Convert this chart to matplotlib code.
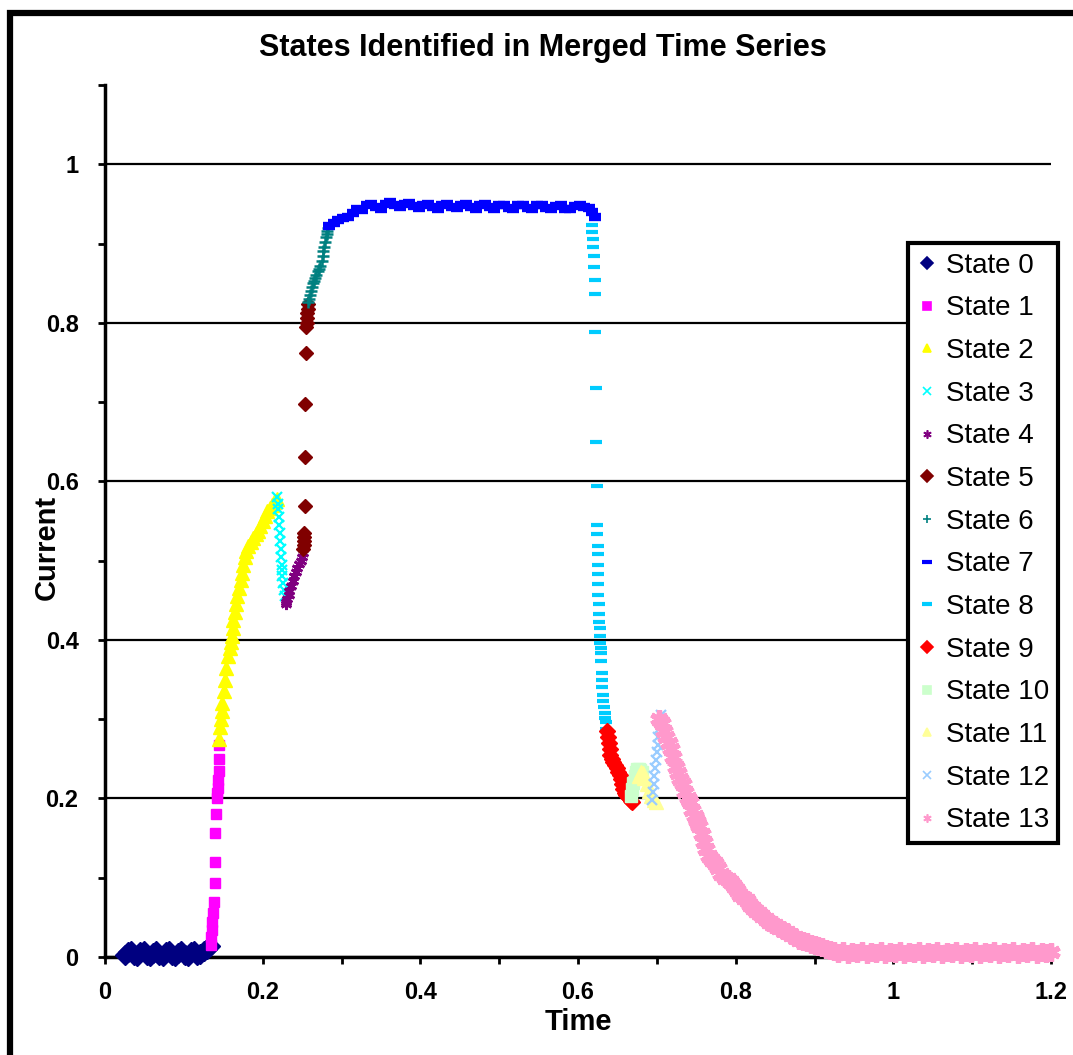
import matplotlib
matplotlib.use("Agg")
import matplotlib.pyplot as plt
from matplotlib.patches import Rectangle
from matplotlib.ticker import MultipleLocator, FuncFormatter

plt.rcParams["font.family"] = ["Liberation Sans", "DejaVu Sans"]

# ---- data (time, current) per state ----
t0 = [0.025, 0.029, 0.033, 0.037, 0.041, 0.045, 0.049, 0.053, 0.057, 0.061, 0.065, 0.069, 0.073, 0.077,
      0.081, 0.085, 0.089, 0.093, 0.097, 0.101, 0.105, 0.109, 0.113, 0.117, 0.121, 0.125, 0.129, 0.133]
i0 = [0.002, 0.006, 0.008, 0.003, 0.001, 0.006, 0.008, 0.002, 0.001, 0.005, 0.007, 0.002, 0.001, 0.006,
      0.008, 0.002, 0.001, 0.005, 0.007, 0.002, 0.001, 0.006, 0.008, 0.003, 0.004, 0.008, 0.010, 0.014]

t1 = [0.134, 0.135, 0.136, 0.136, 0.137, 0.138, 0.139, 0.140, 0.140, 0.141, 0.142, 0.142, 0.143, 0.143,
      0.144, 0.144, 0.145]
i1 = [0.015, 0.025, 0.034, 0.044, 0.055, 0.069, 0.093, 0.120, 0.156, 0.181, 0.201, 0.207, 0.213, 0.223,
      0.235, 0.250, 0.267]

t2 = [0.144, 0.146, 0.147, 0.148, 0.149, 0.151, 0.152, 0.154, 0.156, 0.158, 0.160, 0.161, 0.162, 0.163,
      0.165, 0.166, 0.168, 0.170, 0.172, 0.174, 0.175, 0.177, 0.179, 0.182, 0.185, 0.188, 0.191, 0.194,
      0.197, 0.200, 0.203, 0.206, 0.209, 0.212, 0.215, 0.218]
i2 = [0.275, 0.290, 0.300, 0.310, 0.320, 0.335, 0.350, 0.365, 0.380, 0.390, 0.397, 0.405, 0.415, 0.425,
      0.435, 0.445, 0.455, 0.465, 0.475, 0.485, 0.495, 0.505, 0.512, 0.518, 0.523, 0.528, 0.533, 0.538,
      0.544, 0.550, 0.556, 0.562, 0.566, 0.570, 0.574, 0.578]

t3 = [0.218, 0.219, 0.220, 0.221, 0.221, 0.222, 0.222, 0.223, 0.223, 0.224, 0.225, 0.225, 0.226, 0.227, 0.228]
i3 = [0.580, 0.572, 0.565, 0.555, 0.545, 0.535, 0.525, 0.515, 0.505, 0.495, 0.488, 0.480, 0.472, 0.463, 0.455]

t4 = [0.229, 0.230, 0.231, 0.233, 0.234, 0.236, 0.238, 0.240, 0.242, 0.244, 0.246, 0.248, 0.250, 0.251]
i4 = [0.445, 0.448, 0.452, 0.457, 0.462, 0.468, 0.474, 0.480, 0.486, 0.491, 0.496, 0.500, 0.505, 0.510]

t5 = [0.251, 0.252, 0.252, 0.253, 0.253, 0.254, 0.254, 0.254, 0.255, 0.255, 0.256, 0.256, 0.256, 0.257, 0.257]
i5 = [0.515, 0.520, 0.525, 0.530, 0.535, 0.569, 0.631, 0.697, 0.762, 0.795, 0.800, 0.806, 0.812, 0.818, 0.824]

t6 = [0.258, 0.259, 0.260, 0.261, 0.262, 0.264, 0.265, 0.266, 0.268, 0.270, 0.272, 0.273, 0.275, 0.276,
      0.277, 0.278, 0.279, 0.280, 0.281, 0.282, 0.283]
i6 = [0.826, 0.830, 0.835, 0.840, 0.845, 0.850, 0.853, 0.856, 0.860, 0.865, 0.868, 0.872, 0.878, 0.884,
      0.890, 0.896, 0.902, 0.908, 0.912, 0.916, 0.920]

t7 = [0.284, 0.290, 0.296, 0.302, 0.308, 0.314, 0.320, 0.326, 0.332, 0.338, 0.344, 0.350, 0.356, 0.362,
      0.368, 0.374, 0.380, 0.386, 0.392, 0.398, 0.404, 0.410, 0.416, 0.422, 0.428, 0.434, 0.440, 0.446,
      0.452, 0.458, 0.464, 0.470, 0.476, 0.482, 0.488, 0.494, 0.500, 0.506, 0.512, 0.518, 0.524, 0.530,
      0.536, 0.542, 0.548, 0.554, 0.560, 0.566, 0.572, 0.578, 0.584, 0.590, 0.596, 0.602, 0.608, 0.614,
      0.618, 0.621]
i7 = [0.922, 0.926, 0.930, 0.932, 0.934, 0.938, 0.944, 0.942, 0.948, 0.950, 0.946, 0.944, 0.950, 0.952,
      0.948, 0.946, 0.950, 0.951, 0.947, 0.945, 0.949, 0.950, 0.946, 0.944, 0.948, 0.950, 0.946, 0.945,
      0.949, 0.950, 0.946, 0.944, 0.948, 0.950, 0.946, 0.944, 0.948, 0.949, 0.945, 0.944, 0.948, 0.949,
      0.945, 0.944, 0.948, 0.949, 0.945, 0.943, 0.947, 0.948, 0.944, 0.943, 0.947, 0.948, 0.946, 0.945,
      0.940, 0.933]

t8 = [0.618, 0.618, 0.619, 0.619, 0.620, 0.620, 0.621, 0.621, 0.622, 0.623, 0.623, 0.624, 0.624, 0.624,
      0.625, 0.625, 0.625, 0.626, 0.626, 0.626, 0.627, 0.627, 0.627, 0.628, 0.628, 0.628, 0.629, 0.629,
      0.629, 0.630, 0.631, 0.631, 0.632, 0.632, 0.633, 0.634, 0.634, 0.635, 0.636]
i8 = [0.924, 0.915, 0.906, 0.896, 0.884, 0.870, 0.854, 0.836, 0.789, 0.718, 0.650, 0.594, 0.545, 0.533,
      0.518, 0.508, 0.495, 0.483, 0.471, 0.457, 0.445, 0.433, 0.423, 0.415, 0.405, 0.396, 0.390, 0.383,
      0.374, 0.358, 0.349, 0.340, 0.331, 0.323, 0.315, 0.308, 0.302, 0.296, 0.288]

t9 = [0.637, 0.638, 0.639, 0.640, 0.641, 0.643, 0.645, 0.647, 0.649, 0.651, 0.653, 0.655, 0.656, 0.657,
      0.659, 0.661, 0.663, 0.665, 0.667, 0.669]
i9 = [0.285, 0.278, 0.270, 0.262, 0.255, 0.250, 0.246, 0.242, 0.238, 0.234, 0.229, 0.224, 0.218, 0.212,
      0.207, 0.204, 0.202, 0.200, 0.197, 0.195]

t10 = [0.667, 0.669, 0.670, 0.672, 0.673, 0.675, 0.677, 0.679, 0.681]
i10 = [0.203, 0.212, 0.220, 0.228, 0.234, 0.237, 0.237, 0.236, 0.234]

t11 = [0.678, 0.680, 0.682, 0.684, 0.687, 0.690, 0.693, 0.696, 0.699]
i11 = [0.228, 0.234, 0.232, 0.226, 0.218, 0.210, 0.203, 0.198, 0.196]

t12 = [0.694, 0.695, 0.696, 0.697, 0.698, 0.699, 0.700, 0.701, 0.702, 0.703, 0.704, 0.705]
i12 = [0.198, 0.208, 0.218, 0.228, 0.238, 0.248, 0.258, 0.268, 0.278, 0.288, 0.297, 0.305]

t13 = [0.703, 0.706, 0.709, 0.712, 0.715, 0.718, 0.721, 0.724, 0.727, 0.730, 0.733, 0.736, 0.739, 0.742,
       0.745, 0.748, 0.751, 0.754, 0.757, 0.760, 0.763, 0.766, 0.770, 0.774, 0.778, 0.782, 0.786, 0.790,
       0.794, 0.798, 0.802, 0.806, 0.810, 0.814, 0.818, 0.822, 0.826, 0.830, 0.834, 0.838, 0.842, 0.846,
       0.850, 0.855, 0.860, 0.865, 0.870, 0.875, 0.880, 0.885, 0.890, 0.895, 0.900, 0.905, 0.910, 0.915,
       0.920, 0.925, 0.930, 0.936, 0.942, 0.948, 0.954, 0.960, 0.966, 0.972, 0.978, 0.984, 0.990, 0.996,
       1.002, 1.008, 1.014, 1.020, 1.026, 1.032, 1.038, 1.044, 1.050, 1.056, 1.062, 1.068, 1.074, 1.080,
       1.086, 1.092, 1.098, 1.104, 1.110, 1.116, 1.122, 1.128, 1.134, 1.140, 1.146, 1.152, 1.158, 1.164,
       1.170, 1.176, 1.182, 1.188, 1.194, 1.200]
i13 = [0.300, 0.295, 0.285, 0.278, 0.270, 0.262, 0.252, 0.240, 0.232, 0.225, 0.218, 0.208, 0.200, 0.195,
       0.186, 0.178, 0.172, 0.165, 0.155, 0.145, 0.136, 0.128, 0.122, 0.118, 0.112, 0.105, 0.100, 0.098,
       0.094, 0.090, 0.084, 0.078, 0.075, 0.072, 0.066, 0.062, 0.058, 0.055, 0.052, 0.048, 0.044, 0.042,
       0.040, 0.036, 0.034, 0.031, 0.028, 0.025, 0.022, 0.020, 0.019, 0.017, 0.015, 0.014, 0.012, 0.010,
       0.009, 0.008, 0.005, 0.007, 0.004, 0.006, 0.005, 0.007, 0.004, 0.006, 0.005, 0.007, 0.004, 0.006,
       0.005, 0.007, 0.004, 0.006, 0.005, 0.007, 0.004, 0.006, 0.005, 0.007, 0.004, 0.006, 0.005, 0.007,
       0.004, 0.006, 0.005, 0.007, 0.004, 0.006, 0.005, 0.007, 0.004, 0.006, 0.005, 0.007, 0.004, 0.006,
       0.005, 0.007, 0.004, 0.006, 0.005, 0.006]

labels = ["State %d" % k for k in range(14)]
times = [t0, t1, t2, t3, t4, t5, t6, t7, t8, t9, t10, t11, t12, t13]
currents = [i0, i1, i2, i3, i4, i5, i6, i7, i8, i9, i10, i11, i12, i13]

star = (6, 2, 0)  # excel-like asterisk marker
# (marker, color, size, edge width)
styles = [
    ("D", "#000080", 10, 1.0),
    ("s", "#FF00FF", 6.5, 1.0),
    ("^", "#FFFF00", 10, 1.0),
    ("x", "#00FFFF", 7, 1.6),
    (star, "#800080", 8, 2.0),
    ("D", "#800000", 7, 1.0),
    ("+", "#008080", 8, 1.8),
    ("_", "#0000FF", 8, 6.0),
    ("_", "#00CCFF", 8.5, 3.0),
    ("D", "#FF0000", 8, 1.0),
    ("s", "#CCFFCC", 9, 1.0),
    ("^", "#FFFF99", 10, 1.0),
    ("x", "#99CCFF", 7, 1.6),
    (star, "#FF99CC", 13, 3.8),
]

fig = plt.figure(figsize=(10.73, 10.55), dpi=100)
ax = fig.add_axes([105 / 1073, 1 - 957 / 1055, (1051 - 105) / 1073, (957 - 85) / 1055])

handles = []
for t, cur, lab, (mk, col, ms, mew) in zip(times, currents, labels, styles):
    ax.plot(t, cur, linestyle="none", marker=mk, color=col, markersize=ms,
            markeredgewidth=mew, markeredgecolor=col, clip_on=False, zorder=3)
    is_dash = mk == "_"
    h, = ax.plot([], [], linestyle="none", marker=mk, color=col,
                 markersize=7 if is_dash else 6,
                 markeredgewidth=3 if is_dash else 1.2, markeredgecolor=col, label=lab)
    handles.append(h)

ax.set_xlim(0, 1.2)
ax.set_ylim(0, 1.1)
ax.xaxis.set_major_locator(MultipleLocator(0.2))
ax.xaxis.set_minor_locator(MultipleLocator(0.1))
ax.yaxis.set_major_locator(MultipleLocator(0.2))
ax.yaxis.set_minor_locator(MultipleLocator(0.1))
fmt = FuncFormatter(lambda v, p: "%g" % round(v, 2))
ax.xaxis.set_major_formatter(fmt)
ax.yaxis.set_major_formatter(fmt)
ax.tick_params(which="both", direction="out", length=5, width=2, color="black")
ax.tick_params(which="major", labelsize=17)
ax.tick_params(axis="x", which="major", pad=12)
ax.tick_params(axis="y", which="major", pad=14)
for lab in ax.get_xticklabels() + ax.get_yticklabels():
    lab.set_fontweight("bold")

for s in ["top", "right"]:
    ax.spines[s].set_visible(False)
for s in ["left", "bottom"]:
    ax.spines[s].set_linewidth(2.5)
ax.yaxis.grid(True, which="major", color="black", linewidth=1.6)
ax.set_axisbelow(True)

fig.text(543 / 1073, 1 - 48 / 1055, "States Identified in Merged Time Series", fontsize=22,
         fontweight="bold", ha="center", va="center")
ax.set_xlabel("Time", fontsize=21, fontweight="bold")
ax.xaxis.set_label_coords(0.5, -0.058)
ax.set_ylabel("Current", fontsize=21, fontweight="bold")
ax.yaxis.set_label_coords(-0.047, 0.47)

leg = fig.legend(handles=handles, loc="upper left", bbox_to_anchor=(908 / 1073, 1 - 243 / 1055),
                 bbox_transform=fig.transFigure, fontsize=20, frameon=True, fancybox=False,
                 borderpad=0.35, labelspacing=0.6, handlelength=0.7, handletextpad=0.3,
                 borderaxespad=0)
leg.get_frame().set_edgecolor("black")
leg.get_frame().set_linewidth(3)
leg.get_frame().set_alpha(1)

# outer chart border (excel chart area)
fig.patches.append(Rectangle((10 / 1073, -0.05), 1.1, 1 - 13 / 1055 + 0.05, transform=fig.transFigure,
                             fill=False, edgecolor="black", linewidth=4.5, zorder=10))

fig.savefig("out.png", dpi=100)
